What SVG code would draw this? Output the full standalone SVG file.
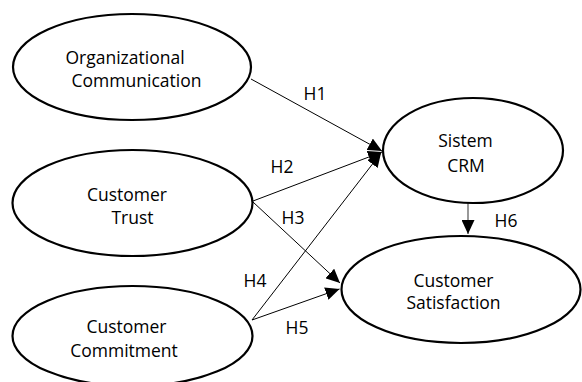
<svg xmlns="http://www.w3.org/2000/svg" width="582" height="382" viewBox="0 0 582 382">
  <style>
    .node ellipse { fill: #ffffff; stroke: #000000; stroke-width: 2.2; }
    .lbl { font-family: "Open Sans", "Liberation Sans", sans-serif; font-size: 17.5px; fill: #000000; text-anchor: middle; }
    .edge { stroke: #000000; stroke-width: 1; fill: none; marker-end: url(#arrow); }
    .edge.grey { stroke: #7f7f7f; stroke-width: 1.6; }
  </style>
  <defs>
    <marker id="arrow" markerUnits="userSpaceOnUse" markerWidth="15" markerHeight="13" refX="14" refY="6.5" orient="auto">
      <path d="M0,0 L14,6.5 L0,13 z" fill="#000000"/>
    </marker>
  </defs>
  <rect width="582" height="382" fill="#ffffff"/>

  <!-- paths between constructs -->
  <g id="connectors">
    <line class="edge" x1="251" y1="79" x2="382" y2="151"/>
    <line class="edge" x1="253" y1="201" x2="382" y2="152"/>
    <line class="edge" x1="252" y1="320" x2="381" y2="153"/>
    <line class="edge" x1="253" y1="202" x2="340" y2="283"/>
    <line class="edge" x1="252" y1="320" x2="339.5" y2="289"/>
    <line class="edge grey" x1="468" y1="203" x2="468" y2="234"/>
    <text class="lbl" x="315" y="100">H1</text>
    <text class="lbl" x="282" y="173">H2</text>
    <text class="lbl" x="293" y="224">H3</text>
    <text class="lbl" x="255" y="287">H4</text>
    <text class="lbl" x="297" y="334">H5</text>
    <text class="lbl" x="506" y="227">H6</text>
  </g>

  <g id="organizational-communication" class="node">
    <ellipse cx="132" cy="67" rx="119" ry="53"/>
    <text class="lbl" x="125" y="64">Organizational</text>
    <text class="lbl" x="136.5" y="87">Communication</text>
  </g>

  <g id="customer-trust" class="node">
    <ellipse cx="132.5" cy="203" rx="120" ry="53"/>
    <text class="lbl" x="127" y="201">Customer</text>
    <text class="lbl" x="132.5" y="224">Trust</text>
  </g>

  <g id="customer-commitment" class="node">
    <ellipse cx="132.5" cy="336" rx="120" ry="50"/>
    <text class="lbl" x="126.5" y="333">Customer</text>
    <text class="lbl" x="124" y="357">Commitment</text>
  </g>

  <g id="sistem-crm" class="node">
    <ellipse cx="473" cy="150.5" rx="90" ry="52.5"/>
    <text class="lbl" x="465.5" y="147">Sistem</text>
    <text class="lbl" x="466" y="172">CRM</text>
  </g>

  <g id="customer-satisfaction" class="node">
    <ellipse cx="461" cy="289.5" rx="119.5" ry="53.5"/>
    <text class="lbl" x="453.5" y="287">Customer</text>
    <text class="lbl" x="453.5" y="309">Satisfaction</text>
  </g>
</svg>
